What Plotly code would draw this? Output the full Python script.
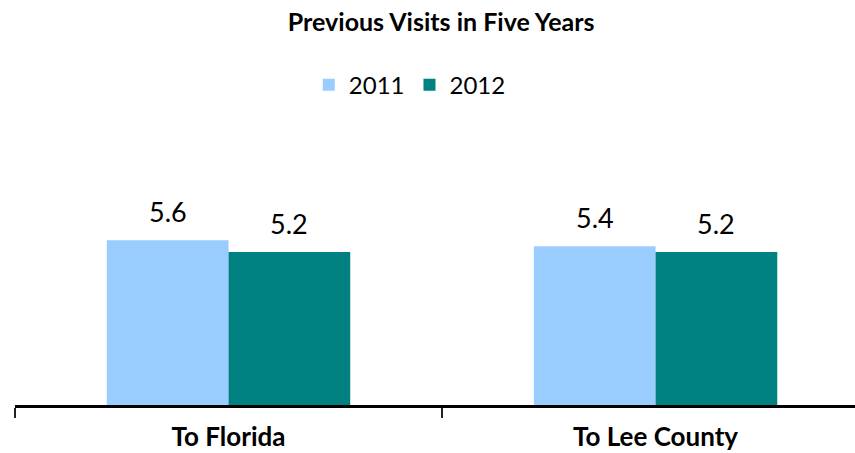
import plotly.graph_objects as go

categories = ["To Florida", "To Lee County"]
visits_2011 = [5.6, 5.4]
visits_2012 = [5.2, 5.2]

COLORS = {"2011": "#99CCFF", "2012": "#008080", "ink": "#000000"}
FONT = "Lato, 'Open Sans', Arial, sans-serif"
BARGAP = 0.43

fig = go.Figure()
series = (("2011", visits_2011), ("2012", visits_2012))
for name, vals in series:
    fig.add_trace(go.Bar(
        name=name, x=categories, y=vals,
        marker=dict(color=COLORS[name], line=dict(width=0)),
    ))

# value labels above each bar, sitting a little higher than plotly's "outside" text
bar_w = (1 - BARGAP) / len(series)
for k, (name, vals) in enumerate(series):
    off = (k - (len(series) - 1) / 2) * bar_w
    for i, v in enumerate(vals):
        fig.add_annotation(x=i + off, y=v, text=f"{v:.1f}", showarrow=False,
                           yanchor="bottom", yshift=10,
                           font=dict(size=27, family=FONT, color=COLORS["ink"]))

fig.update_layout(
    width=855, height=453,
    paper_bgcolor="white", plot_bgcolor="white",
    font=dict(family=FONT, size=20, color=COLORS["ink"]),
    margin=dict(l=15, r=0, t=111, b=48, autoexpand=False),
    barmode="group", bargap=BARGAP, bargroupgap=0,
    title=dict(text="<b>Previous Visits in Five Years</b>", x=0.516, xanchor="center",
               y=0.951, yanchor="middle", yref="container",
               font=dict(size=25, family=FONT, color=COLORS["ink"])),
    legend=dict(orientation="h", x=0.47, xanchor="center", y=1.088, yanchor="middle",
                font=dict(size=24, family=FONT), traceorder="normal",
                itemwidth=30, tracegroupgap=0),
    showlegend=True,
    hovermode=False,
)
fig.update_xaxes(
    type="category", range=[-0.5, 1.467], automargin=False,
    showline=True, linecolor=COLORS["ink"], linewidth=3,
    ticks="outside", tickson="boundaries", ticklen=10, tickwidth=2, tickcolor="#222222",
    tickvals=categories, ticktext=[f"<b>{c}</b>" for c in categories],
    tickfont=dict(size=26, family=FONT), ticklabelstandoff=7, showgrid=False,
)
fig.update_yaxes(range=[0, 10], visible=False, showgrid=False, zeroline=False,
                 automargin=False)

# the page body has a default 8px margin; drop it so the figure sits at the corner
fig.write_html("out.html", config={"displayModeBar": False},
               post_script="document.body.style.margin='0';")
